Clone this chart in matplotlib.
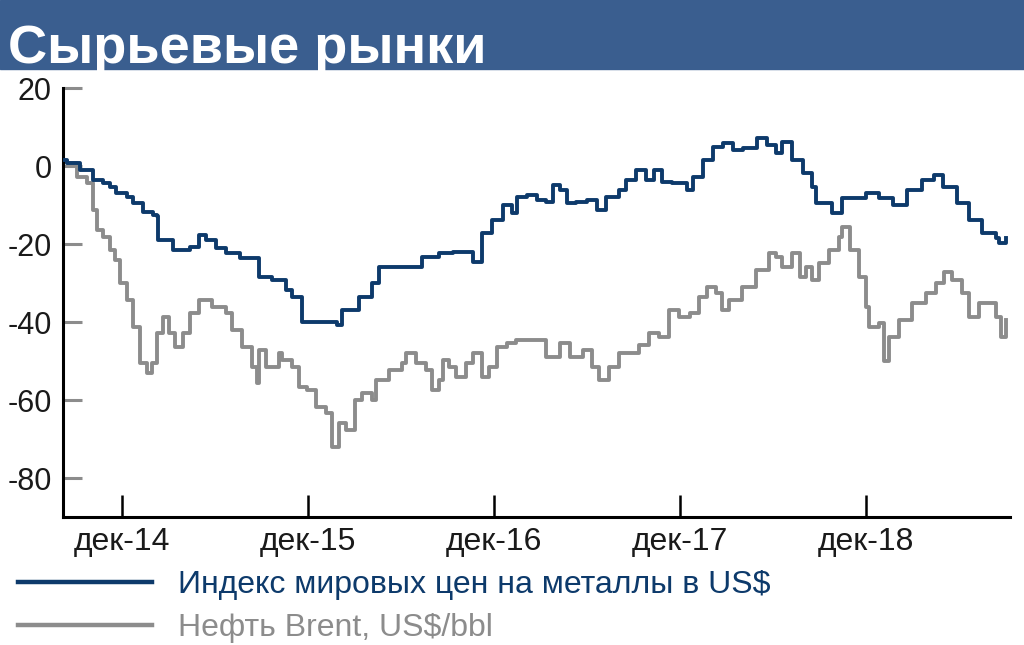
import numpy as np
import pandas as pd
import matplotlib
matplotlib.use("Agg")
import matplotlib.pyplot as plt

title = "Сырьевые рынки"
label_metals = "Индекс мировых цен на металлы в US$"
label_brent = "Нефть Brent, US$/bbl"

metals_dates = ["2014-08-12", "2014-08-16", "2014-09-10", "2014-10-05", "2014-10-25", "2014-11-08",
                "2014-11-21", "2014-12-11", "2014-12-23", "2015-01-12", "2015-02-01", "2015-02-09",
                "2015-02-11", "2015-03-11", "2015-04-14", "2015-05-02", "2015-05-16", "2015-06-04",
                "2015-06-24", "2015-07-21", "2015-08-28", "2015-09-22", "2015-10-20", "2015-11-01",
                "2015-11-21", "2015-12-14", "2016-01-07", "2016-01-27", "2016-02-07", "2016-03-12",
                "2016-04-06", "2016-04-20", "2016-05-23", "2016-06-18", "2016-07-13", "2016-08-16",
                "2016-09-11", "2016-10-20", "2016-11-08", "2016-11-28", "2016-12-18", "2017-01-05",
                "2017-01-16", "2017-02-03", "2017-02-23", "2017-03-14", "2017-03-26", "2017-04-09",
                "2017-04-23", "2017-05-12", "2017-06-01", "2017-06-21", "2017-07-09", "2017-08-04",
                "2017-08-18", "2017-09-06", "2017-09-26", "2017-10-12", "2017-10-27", "2017-11-16",
                "2017-12-14", "2017-12-26", "2018-01-15", "2018-02-04", "2018-02-24", "2018-03-15",
                "2018-04-03", "2018-05-01", "2018-05-21", "2018-06-08", "2018-06-20", "2018-07-10",
                "2018-07-30", "2018-08-18", "2018-08-26", "2018-09-06", "2018-09-26", "2018-10-16",
                "2018-11-12", "2018-12-01", "2018-12-27", "2019-01-23", "2019-02-19", "2019-03-22",
                "2019-04-14", "2019-05-01", "2019-05-28", "2019-06-22", "2019-07-18", "2019-08-14",
                "2019-08-20", "2019-09-03"]
metals_values = [1.5, 0.8, -1.0, -3.6, -4.4, -5.4,
                 -6.9, -7.9, -9.5, -11.8, -12.6, -12.8,
                 -19.0, -21.5, -20.8, -17.7, -19.0, -21.0,
                 -22.3, -23.6, -28.5, -29.2, -31.8, -33.6,
                 -40.0, -40.0, -40.0, -40.8, -36.9, -33.6,
                 -30.0, -25.9, -25.9, -25.9, -23.3, -22.3,
                 -22.1, -24.6, -17.2, -13.8, -10.0, -12.1,
                 -7.9, -7.4, -8.7, -9.2, -4.9, -6.2,
                 -9.5, -9.2, -8.7, -11.3, -7.9, -6.2,
                 -3.6, -1.0, -3.6, -1.0, -4.1, -4.4,
                 -6.2, -2.8, 1.5, 4.9, 5.9, 4.1,
                 4.6, 7.2, 5.4, 3.3, 6.2, 1.5,
                 -1.8, -5.4, -9.5, -9.5, -12.1, -8.2,
                 -8.2, -6.9, -8.2, -10.0, -6.2, -3.6,
                 -2.3, -5.4, -9.5, -13.8, -17.2, -18.5,
                 -19.7, -18.5]

brent_dates = ["2014-08-12", "2014-08-16", "2014-09-05", "2014-09-24", "2014-10-05", "2014-10-13",
               "2014-10-25", "2014-11-08", "2014-11-18", "2014-11-28", "2014-12-11", "2014-12-23",
               "2015-01-06", "2015-01-20", "2015-01-30", "2015-02-09", "2015-02-20", "2015-03-05",
               "2015-03-15", "2015-03-31", "2015-04-14", "2015-05-02", "2015-05-28", "2015-06-24",
               "2015-07-06", "2015-07-26", "2015-08-14", "2015-08-24", "2015-08-28", "2015-09-10",
               "2015-10-06", "2015-10-12", "2015-11-01", "2015-11-14", "2015-11-30", "2015-12-17",
               "2016-01-06", "2016-01-18", "2016-01-31", "2016-02-14", "2016-03-04", "2016-03-16",
               "2016-04-05", "2016-04-13", "2016-05-09", "2016-06-03", "2016-06-11", "2016-07-01",
               "2016-07-20", "2016-08-01", "2016-08-16", "2016-08-22", "2016-09-04", "2016-09-18",
               "2016-10-08", "2016-10-20", "2016-11-08", "2016-11-22", "2016-12-06", "2016-12-26",
               "2017-01-14", "2017-02-09", "2017-03-01", "2017-03-14", "2017-04-09", "2017-04-29",
               "2017-05-24", "2017-06-12", "2017-06-26", "2017-07-15", "2017-08-04", "2017-08-24",
               "2017-09-12", "2017-10-02", "2017-10-21", "2017-11-10", "2017-11-30", "2017-12-20",
               "2018-01-08", "2018-01-24", "2018-02-10", "2018-02-22", "2018-03-07", "2018-04-02",
               "2018-04-30", "2018-05-25", "2018-06-08", "2018-06-20", "2018-07-10", "2018-07-24",
               "2018-08-06", "2018-08-18", "2018-08-31", "2018-09-20", "2018-10-10", "2018-10-16",
               "2018-10-30", "2018-11-18", "2018-12-01", "2018-12-07", "2018-12-27", "2019-01-06",
               "2019-01-16", "2019-02-04", "2019-03-02", "2019-03-29", "2019-04-18", "2019-05-04",
               "2019-05-19", "2019-06-08", "2019-06-22", "2019-07-11", "2019-07-31", "2019-08-14",
               "2019-08-24", "2019-09-03"]
brent_values = [1.3, 0.8, -2.8, -4.4, -11.3, -16.4,
                -18.2, -21.5, -24.1, -30.0, -34.4, -41.3,
                -50.5, -53.1, -50.5, -42.8, -38.7, -42.8,
                -46.4, -42.8, -37.7, -34.4, -36.2, -37.7,
                -42.1, -46.4, -51.5, -55.6, -47.2, -51.5,
                -47.9, -49.7, -51.5, -56.7, -57.4, -61.8,
                -63.3, -72.0, -65.9, -67.7, -60.0, -58.2,
                -60.0, -54.9, -52.3, -50.5, -47.9, -50.5,
                -52.3, -57.4, -54.9, -49.7, -51.5, -54.1,
                -50.5, -47.9, -54.1, -51.5, -46.4, -45.4,
                -44.6, -44.6, -44.6, -49.0, -45.4, -49.0,
                -47.2, -51.5, -54.9, -51.5, -47.9, -47.9,
                -45.9, -42.8, -43.8, -36.9, -38.7, -37.7,
                -33.6, -31.0, -32.6, -36.9, -34.4, -31.0,
                -26.7, -22.3, -23.3, -25.9, -22.3, -28.5,
                -25.9, -29.2, -24.9, -21.5, -18.2, -15.6,
                -21.5, -28.5, -36.2, -41.3, -40.3, -50.0,
                -43.8, -39.5, -35.1, -32.6, -30.0, -27.2,
                -29.2, -32.6, -38.7, -35.1, -35.1, -38.7,
                -43.8, -39.5]

tick_dates = ["2014-12-01", "2015-12-01", "2016-12-01", "2017-12-01", "2018-12-01"]
tick_labels = ["дек-14", "дек-15", "дек-16", "дек-17", "дек-18"]

navy = "#0d3a6b"
grey = "#8c8c8c"
banner = "#3a5e8f"

plt.rcParams["font.family"] = ["Liberation Sans", "DejaVu Sans"]
plt.rcParams["axes.unicode_minus"] = False

fig = plt.figure(figsize=(10.24, 6.45), dpi=100)
fig.patches.append(plt.Rectangle((0, 1 - 69 / 645), 1, 69 / 645, transform=fig.transFigure,
                                 color=banner, zorder=0))
fig.text(8 / 1024, 1 - 63 / 645, title, color="white", fontsize=39, fontweight="bold",
         ha="left", va="baseline")

ax = fig.add_axes([63 / 1024, 1 - 517 / 645, (1010 - 63) / 1024, (517 - 88) / 645])
ln1, = ax.plot(pd.to_datetime(metals_dates), metals_values, color=navy, lw=2.8,
               drawstyle="steps-post", label=label_metals, zorder=3)
ln2, = ax.plot(pd.to_datetime(brent_dates), brent_values, color=grey, lw=2.8,
               drawstyle="steps-post", label=label_brent, zorder=2)

ax.set_ylim(-90, 20)
ax.set_xlim(pd.Timestamp("2014-08-08"), pd.Timestamp("2019-09-10"))
ax.set_yticks([20, 0, -20, -40, -60, -80])
ax.set_xticks(pd.to_datetime(tick_dates))
ax.set_xticklabels(tick_labels)

for s in ["top", "right"]:
    ax.spines[s].set_visible(False)
for s in ["left", "bottom"]:
    ax.spines[s].set_linewidth(2.2)
    ax.spines[s].set_color("black")

ax.tick_params(axis="y", direction="in", length=14, width=2.2, color=grey,
               labelsize=22, labelcolor="#1a1a1a", pad=8)
ax.tick_params(axis="x", direction="in", length=16, width=1.8, color="black",
               labelsize=23, labelcolor="#1a1a1a", pad=7)

leg = fig.legend(handles=[ln1, ln2], loc="upper left", bbox_to_anchor=(2 / 1024, 1 - 554 / 645),
                 frameon=False, borderpad=0, handlelength=4.2, handletextpad=0.8,
                 labelspacing=0.42, fontsize=23, labelcolor="linecolor")
for h in leg.get_lines():
    h.set_linewidth(3.2)

fig.savefig("out.png", dpi=100)
